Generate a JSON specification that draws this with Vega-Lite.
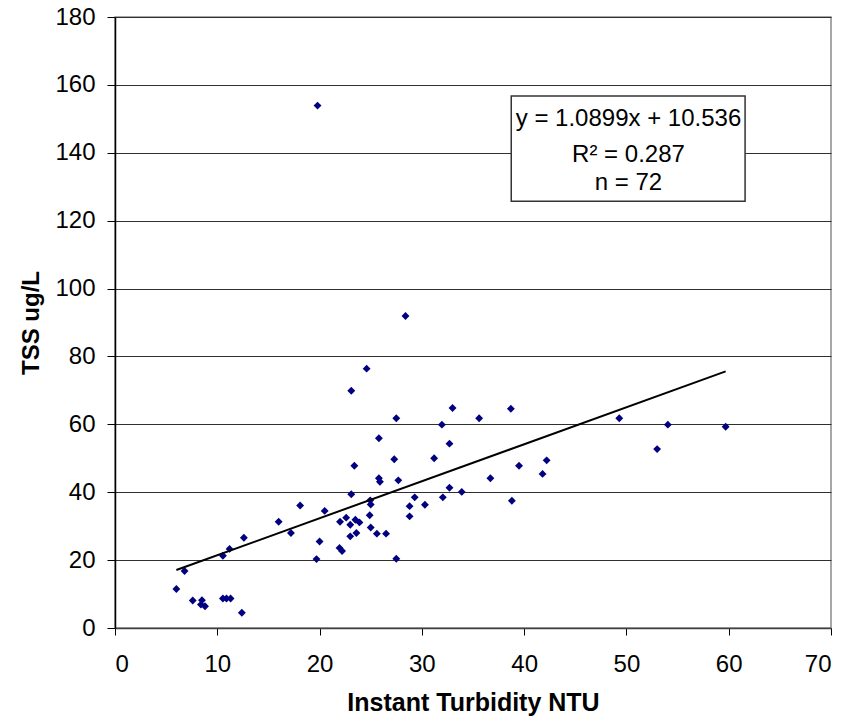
{
  "$schema": "https://vega.github.io/schema/vega-lite/v6.json",
  "width": 716,
  "height": 611,
  "autosize": "none",
  "padding": {"left": 115, "top": 17, "right": 35, "bottom": 94},
  "background": "white",
  "config": {
    "font": "Liberation Sans",
    "view": {"stroke": "#8a8a8a", "strokeWidth": 1.5}
  },
  "datasets": {
    "points": [
      {"turbidity": 6.0, "tss": 11.5},
      {"turbidity": 6.8, "tss": 16.8},
      {"turbidity": 7.6, "tss": 8.1},
      {"turbidity": 8.4, "tss": 6.9},
      {"turbidity": 8.5, "tss": 8.2},
      {"turbidity": 8.8, "tss": 6.4},
      {"turbidity": 10.55, "tss": 8.7},
      {"turbidity": 10.9, "tss": 8.7},
      {"turbidity": 11.3, "tss": 8.7},
      {"turbidity": 12.4, "tss": 4.5},
      {"turbidity": 10.55, "tss": 21.3},
      {"turbidity": 11.2, "tss": 23.3},
      {"turbidity": 12.6, "tss": 26.6},
      {"turbidity": 16.0, "tss": 31.3},
      {"turbidity": 17.2, "tss": 28.0},
      {"turbidity": 18.1, "tss": 36.1},
      {"turbidity": 19.7, "tss": 20.3},
      {"turbidity": 20.0, "tss": 25.5},
      {"turbidity": 20.5, "tss": 34.5},
      {"turbidity": 22.0, "tss": 31.3},
      {"turbidity": 22.6, "tss": 32.5},
      {"turbidity": 23.0, "tss": 30.4},
      {"turbidity": 23.5, "tss": 31.9},
      {"turbidity": 23.9, "tss": 31.1},
      {"turbidity": 23.0, "tss": 27.0},
      {"turbidity": 23.6, "tss": 28.0},
      {"turbidity": 21.95, "tss": 23.6},
      {"turbidity": 22.2, "tss": 22.7},
      {"turbidity": 23.1, "tss": 39.4},
      {"turbidity": 23.4, "tss": 47.8},
      {"turbidity": 23.1, "tss": 69.9},
      {"turbidity": 24.6, "tss": 76.4},
      {"turbidity": 28.4, "tss": 91.9},
      {"turbidity": 19.8, "tss": 153.9},
      {"turbidity": 24.95, "tss": 37.6},
      {"turbidity": 25.0, "tss": 36.4},
      {"turbidity": 24.9, "tss": 33.2},
      {"turbidity": 25.0, "tss": 29.6},
      {"turbidity": 25.6, "tss": 27.8},
      {"turbidity": 26.5, "tss": 27.8},
      {"turbidity": 27.5, "tss": 20.4},
      {"turbidity": 25.8, "tss": 44.1},
      {"turbidity": 25.9, "tss": 43.1},
      {"turbidity": 25.8, "tss": 55.9},
      {"turbidity": 27.3, "tss": 49.7},
      {"turbidity": 27.5, "tss": 61.8},
      {"turbidity": 27.7, "tss": 43.5},
      {"turbidity": 28.8, "tss": 35.9},
      {"turbidity": 28.8, "tss": 32.9},
      {"turbidity": 29.3, "tss": 38.5},
      {"turbidity": 30.3, "tss": 36.3},
      {"turbidity": 31.2, "tss": 50.0},
      {"turbidity": 31.96, "tss": 59.9},
      {"turbidity": 32.05, "tss": 38.5},
      {"turbidity": 32.7, "tss": 54.3},
      {"turbidity": 32.7, "tss": 41.3},
      {"turbidity": 33.0, "tss": 64.8},
      {"turbidity": 33.9, "tss": 40.1},
      {"turbidity": 35.6, "tss": 61.8},
      {"turbidity": 36.7, "tss": 44.1},
      {"turbidity": 38.7, "tss": 64.6},
      {"turbidity": 38.8, "tss": 37.5},
      {"turbidity": 39.5, "tss": 47.8},
      {"turbidity": 41.8, "tss": 45.4},
      {"turbidity": 42.2, "tss": 49.4},
      {"turbidity": 49.3, "tss": 61.8},
      {"turbidity": 53.0, "tss": 52.7},
      {"turbidity": 54.05, "tss": 59.9},
      {"turbidity": 59.7, "tss": 59.3}
    ],
    "fit": [
      {"turbidity": 6.0, "tss": 17.075},
      {"turbidity": 59.7, "tss": 75.603}
    ],
    "box": [
      {"x1": 38.74, "x2": 61.6, "y1": 125.7, "y2": 156.7}
    ],
    "labels": [
      {"x": 50.2, "y": 147.8, "label": "y = 1.0899x + 10.536"},
      {"x": 50.2, "y": 137.3, "label": "R² = 0.287"},
      {"x": 50.2, "y": 129.0, "label": "n = 72"}
    ]
  },
  "layer": [
    {
      "data": {"name": "points"},
      "mark": {"type": "point", "shape": "diamond", "filled": true, "color": "#000080", "size": 62, "opacity": 1},
      "encoding": {
        "x": {
          "field": "turbidity", "type": "quantitative",
          "scale": {"domain": [0, 70], "nice": false},
          "axis": {
            "title": "Instant Turbidity NTU",
            "values": [0, 10, 20, 30, 40, 50, 60, 70],
            "grid": false,
            "domainColor": "#404040", "domainWidth": 1.5,
            "tickColor": "#000000", "tickSize": 7, "tickWidth": 1,
            "labelFontSize": 24, "labelColor": "#000000", "labelPadding": 17,
            "titleFontSize": 25, "titleFontWeight": "bold", "titleColor": "#000000", "titlePadding": 14
          }
        },
        "y": {
          "field": "tss", "type": "quantitative",
          "scale": {"domain": [0, 180], "nice": false},
          "axis": {
            "title": "TSS ug/L",
            "values": [0, 20, 40, 60, 80, 100, 120, 140, 160, 180],
            "grid": true, "gridColor": "#303030", "gridWidth": 1.2, "gridOpacity": 1,
            "domainColor": "#000000", "domainWidth": 1.5,
            "tickColor": "#000000", "tickSize": 8, "tickWidth": 1,
            "labelFontSize": 24, "labelColor": "#000000", "labelPadding": 12,
            "titleFontSize": 24, "titleFontWeight": "bold", "titleColor": "#000000", "titlePadding": 11
          }
        }
      }
    },
    {
      "data": {"name": "fit"},
      "mark": {"type": "line", "color": "#000000", "strokeWidth": 2},
      "encoding": {
        "x": {"field": "turbidity", "type": "quantitative"},
        "y": {"field": "tss", "type": "quantitative"}
      }
    },
    {
      "data": {"name": "box"},
      "mark": {"type": "rect", "fill": "white", "stroke": "#333333", "strokeWidth": 1.5},
      "encoding": {
        "x": {"field": "x1", "type": "quantitative"},
        "x2": {"field": "x2"},
        "y": {"field": "y1", "type": "quantitative"},
        "y2": {"field": "y2"}
      }
    },
    {
      "data": {"name": "labels"},
      "mark": {"type": "text", "fontSize": 24, "align": "center", "baseline": "alphabetic", "color": "#000000"},
      "encoding": {
        "x": {"field": "x", "type": "quantitative"},
        "y": {"field": "y", "type": "quantitative"},
        "text": {"field": "label"}
      }
    }
  ]
}
